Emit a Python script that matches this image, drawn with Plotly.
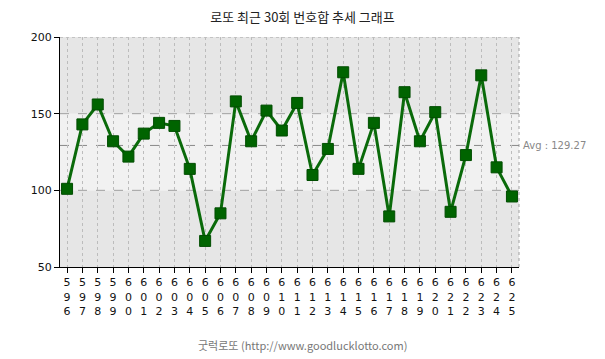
import plotly.graph_objects as go

draws = list(range(596, 626))
sums = [101, 143, 156, 132, 122, 137, 144, 142, 114, 67,
        85, 158, 132, 152, 139, 157, 110, 127, 177, 114,
        144, 83, 164, 132, 151, 86, 123, 175, 115, 96]
avg = 129.27
y_ticks = [50, 100, 150, 200]
tick_labels = ["<br>".join(str(d)) for d in draws]

fig = go.Figure()
fig.add_trace(go.Scatter(
    x=draws, y=sums, mode="lines+markers",
    line=dict(color="#0a6a0a", width=3),
    marker=dict(symbol="square", size=11, color="#006400",
                line=dict(color="#004d00", width=1)),
    hoverinfo="x+y", showlegend=False,
))

shapes = []
for y0, y1, c in [(50, 100, "#e6e6e6"), (100, 150, "#f1f1f1"), (150, 200, "#e6e6e6")]:
    shapes.append(dict(type="rect", xref="paper", yref="y", x0=0, x1=1, y0=y0, y1=y1,
                       fillcolor=c, line=dict(width=0), layer="below"))
for yv in [100, 150]:
    shapes.append(dict(type="line", xref="paper", yref="y", x0=0, x1=1, y0=yv, y1=yv,
                       line=dict(color="#a0a0a0", width=1, dash="dash"), layer="below"))
shapes.append(dict(type="line", xref="paper", yref="y", x0=0, x1=1, y0=200, y1=200,
                   line=dict(color="#a0a0a0", width=1, dash="dot"), layer="below"))
shapes.append(dict(type="line", xref="paper", yref="paper", x0=1, x1=1, y0=0, y1=1,
                   line=dict(color="#a0a0a0", width=1, dash="dot"), layer="below"))
shapes.append(dict(type="line", xref="paper", yref="y", x0=0, x1=1, y0=avg, y1=avg,
                   line=dict(color="#888888", width=1, dash="dash"), layer="below"))

fig.update_layout(
    width=605, height=359,
    margin=dict(l=60, r=86, t=37, b=92),
    paper_bgcolor="white", plot_bgcolor="rgba(0,0,0,0)",
    shapes=shapes,
    title=dict(text="로또 최근 30회 번호합 추세 그래프", x=0.5, xanchor="center",
               y=1 - 17 / 359, yanchor="middle",
               font=dict(family="Noto Sans CJK KR", size=13, color="#222222")),
    font=dict(family="DejaVu Sans", size=11, color="#111111"),
    annotations=[
        dict(text="Avg : 129.27", xref="paper", yref="y", x=1, y=avg, xanchor="left",
             yanchor="middle", xshift=2, showarrow=False,
             font=dict(family="DejaVu Sans", size=10, color="#888888")),
        dict(text="굿럭로또 (http://www.goodlucklotto.com)", xref="paper", yref="paper",
             x=(302 - 60) / 459, y=0, yshift=-78, xanchor="center",
             yanchor="middle", showarrow=False,
             font=dict(family="Noto Sans CJK KR", size=11, color="#777777")),
    ],
    hovermode="closest",
)
fig.update_xaxes(
    range=[595.54, 625.46], tickvals=draws, ticktext=tick_labels,
    showgrid=True, gridcolor="#bcbcbc", griddash="dot", gridwidth=1,
    showline=True, linecolor="#000000", linewidth=1,
    ticks="outside", ticklen=5, tickcolor="#000000", tickangle=0,
    zeroline=False, tickfont=dict(size=11, family="DejaVu Sans"),
)
fig.update_yaxes(
    range=[50, 200], tickvals=y_ticks, showgrid=False,
    showline=True, linecolor="#000000", linewidth=1,
    ticks="outside", ticklen=5, tickcolor="#000000",
    zeroline=False, tickfont=dict(size=11, family="DejaVu Sans"),
)
fig.write_html("out.html", config={"displayModeBar": False},
               post_script="document.body.style.margin='0';")
